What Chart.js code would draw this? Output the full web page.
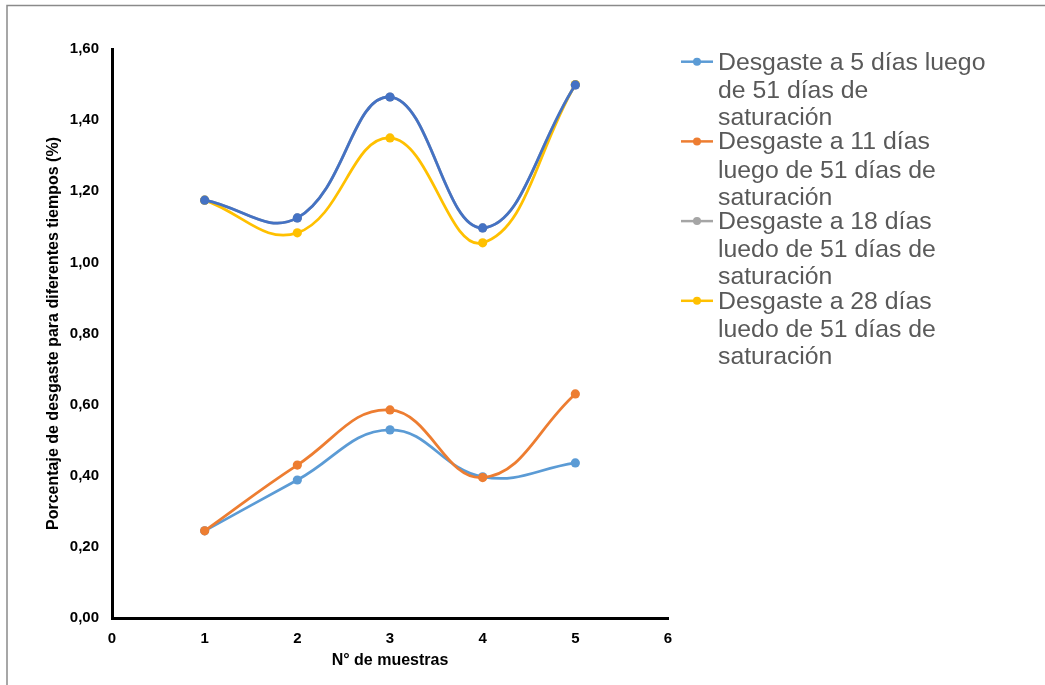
<!DOCTYPE html>
<html>
<head>
<meta charset="utf-8">
<script src="https://cdn.jsdelivr.net/npm/chart.js@4.4.1/dist/chart.umd.min.js"></script>
<style>
  html, body { margin: 0; padding: 0; background: #ffffff; }
  #wrap { position: relative; width: 1045px; height: 685px; }
</style>
</head>
<body>
<div id="wrap"><canvas id="c" width="1045" height="685"></canvas></div>
<script>
// Sample numbers (x axis)
const muestras = [1, 2, 3, 4, 5];

// Wear percentage per sample for each time after 51 days of saturation
const desgaste5dias  = [0.245, 0.388, 0.529, 0.397, 0.436];
const desgaste11dias = [0.245, 0.430, 0.585, 0.395, 0.630];
const desgaste18dias = [1.175, 1.125, 1.465, 1.097, 1.499];
const desgaste28dias = [1.175, 1.083, 1.350, 1.055, 1.500];
const desgasteSerie5 = [1.175, 1.125, 1.465, 1.097, 1.499];

// Legend text, one line per entry
const etiquetas = [
  ["Desgaste a 5 días luego", "de 51 días de", "saturación"],
  ["Desgaste a 11 días", "luego de 51 días de", "saturación"],
  ["Desgaste a 18 días", "luedo de 51 días de", "saturación"],
  ["Desgaste a 28 días", "luedo de 51 días de", "saturación"]
];

// Axis ticks
const xTicks = [0, 1, 2, 3, 4, 5, 6];
const yTicks = [0, 0.2, 0.4, 0.6, 0.8, 1.0, 1.2, 1.4, 1.6];

const colores = ["#5B9BD5", "#ED7D31", "#A5A5A5", "#FFC000", "#4472C4"];

function puntos(vals) {
  return muestras.map((m, i) => ({ x: m, y: vals[i] }));
}

function serie(vals, color, order) {
  return {
    data: puntos(vals),
    borderColor: color,
    backgroundColor: color,
    pointBackgroundColor: color,
    pointBorderColor: color,
    pointRadius: 4.6,
    pointBorderWidth: 0,
    borderWidth: 2.75,
    tension: 0.42,
    fill: false,
    order: order
  };
}

const FONT = "'Liberation Sans', Arial, sans-serif";

// Outer frame of the chart object
const marco = {
  id: 'marco',
  beforeDraw(chart) {
    const ctx = chart.ctx;
    ctx.save();
    ctx.fillStyle = '#ffffff';
    ctx.fillRect(0, 0, chart.width, chart.height);
    ctx.strokeStyle = '#8a8a8a';
    ctx.lineWidth = 1.5;
    ctx.beginPath();
    ctx.moveTo(7, 685);
    ctx.lineTo(7, 5.5);
    ctx.lineTo(1045, 5.5);
    ctx.stroke();
    ctx.restore();
  }
};

// Legend with wrapped entries on the right
const leyenda = {
  id: 'leyenda',
  afterDraw(chart) {
    const ctx = chart.ctx;
    ctx.save();
    ctx.font = "24.8px " + FONT;
    ctx.textBaseline = 'middle';
    const x0 = 681, x1 = 713, xt = 718;
    const paso = 79.7, lineas = [0, 28.4, 55.3];
    etiquetas.forEach((lines, i) => {
      const y = 61.7 + i * paso;
      ctx.strokeStyle = colores[i];
      ctx.lineWidth = 2.5;
      ctx.beginPath();
      ctx.moveTo(x0, y);
      ctx.lineTo(x1, y);
      ctx.stroke();
      ctx.fillStyle = colores[i];
      ctx.beginPath();
      ctx.arc((x0 + x1) / 2, y, 4, 0, Math.PI * 2);
      ctx.fill();
      ctx.fillStyle = '#595959';
      lines.forEach((t, j) => ctx.fillText(t, xt, y + lineas[j] + 1));
    });
    ctx.restore();
  }
};

new Chart(document.getElementById('c'), {
  type: 'line',
  data: {
    datasets: [
      serie(desgaste5dias, colores[0], 5),
      serie(desgaste11dias, colores[1], 4),
      serie(desgaste18dias, colores[2], 3),
      serie(desgaste28dias, colores[3], 2),
      serie(desgasteSerie5, colores[4], 1)
    ]
  },
  options: {
    responsive: false,
    animation: false,
    devicePixelRatio: 1,
    layout: { padding: { left: 36, top: 49, right: 377, bottom: 0 } },
    plugins: {
      legend: { display: false },
      tooltip: { enabled: false }
    },
    scales: {
      x: {
        type: 'linear',
        min: 0,
        max: 6,
        afterBuildTicks: s => { s.ticks = xTicks.map(v => ({ value: v })); },
        afterFit: s => { s.height = 67; },
        grid: { display: false },
        border: { display: true, color: '#000000', width: 3 },
        ticks: {
          color: '#000000',
          padding: 4,
          font: { family: FONT, size: 15, weight: 'bold' },
          callback: v => String(v)
        },
        title: {
          display: true,
          text: 'N° de muestras',
          color: '#000000',
          font: { family: FONT, size: 16, weight: 'bold' },
          padding: { top: 0, bottom: 14.4 }
        }
      },
      y: {
        type: 'linear',
        min: 0,
        max: 1.6,
        afterBuildTicks: s => { s.ticks = yTicks.map(v => ({ value: v })); },
        afterFit: s => { s.width = 112 - 36; },
        grid: { display: false },
        border: { display: true, color: '#000000', width: 3 },
        ticks: {
          color: '#000000',
          padding: 5,
          font: { family: FONT, size: 15, weight: 'bold' },
          callback: v => v.toFixed(2).replace('.', ',')
        },
        title: {
          display: true,
          text: 'Porcentaje de desgaste para diferentes tiempos (%)',
          color: '#000000',
          font: { family: FONT, size: 16, weight: 'bold' },
          padding: { top: 8.4, bottom: 0 }
        }
      }
    }
  },
  plugins: [marco, leyenda]
});
</script>
</body>
</html>
